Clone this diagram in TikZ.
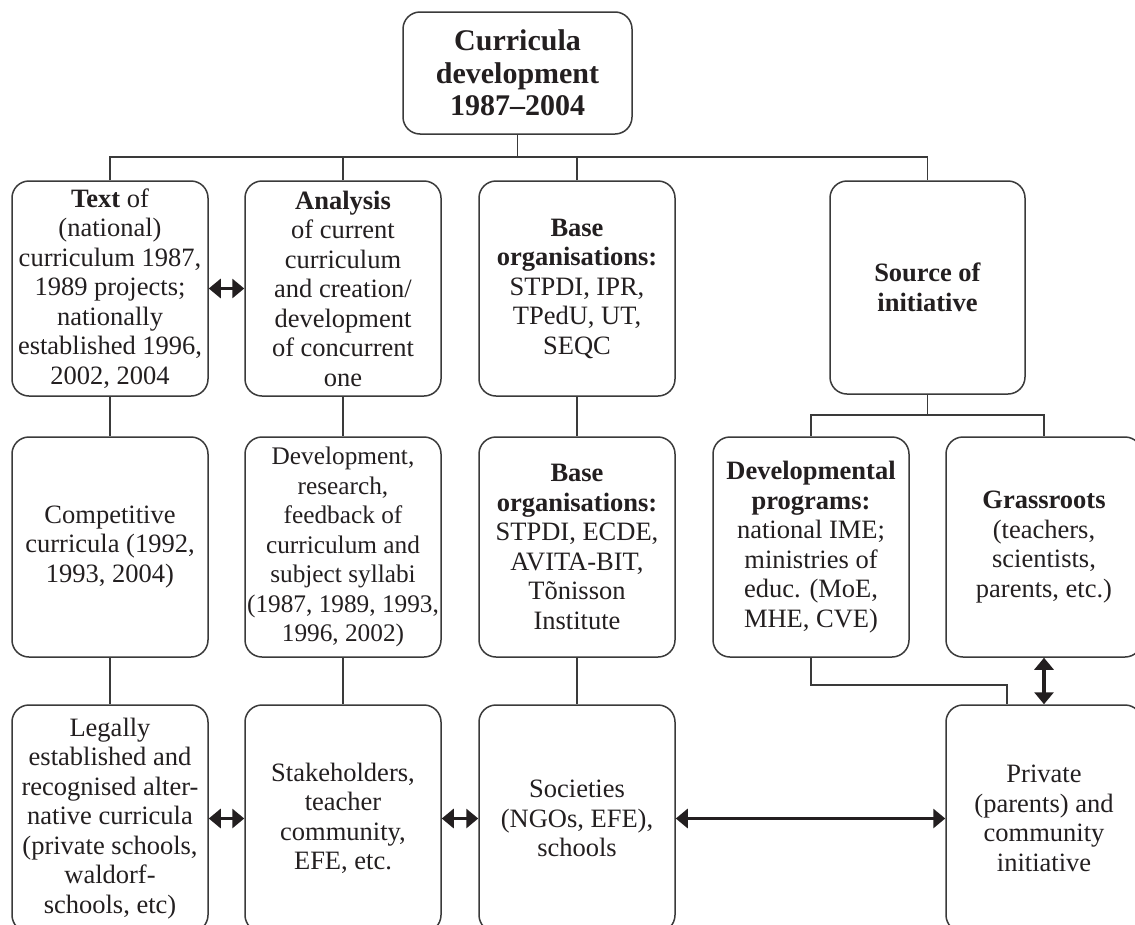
\documentclass[tikz,border=0pt]{standalone}
\usepackage{fontspec}
\setmainfont{Liberation Serif}
\usetikzlibrary{arrows.meta}
\definecolor{ink}{HTML}{231F20}
\definecolor{edge}{HTML}{3A3A3A}
\tikzset{
  box/.style={draw=edge, line width=1.5pt, rounded corners=17pt, rectangle,
    minimum width=196pt, inner sep=0pt, align=center, text=ink,
    font=\fontsize{26.5}{29.5}\selectfont},
  conn/.style={draw=edge, line width=1.5pt},
  dbl/.style={draw=ink, line width=3.4pt, {Triangle[length=12pt,width=19pt]}-{Triangle[length=12pt,width=19pt]}}
}
\begin{document}
\begin{tikzpicture}[x=1pt,y=-1pt]
\clip (0,0) rectangle (1135,924);
\fill[white] (0,0) rectangle (1135,924);
% top
\node[box, minimum width=229pt, minimum height=122pt, font=\fontsize{30}{32.5}\selectfont\bfseries] (top) at (517.5,73)
  {Curricula\\development\\1987--2004};
% row 1
\node[box, minimum height=215pt] (A) at (110,288.5)
  {\textbf{Text} of\\(national)\\curriculum 1987,\\1989 projects;\\nationally\\established 1996,\\2002, 2004};
\node[box, minimum height=215pt] (B) at (343,288.5)
  {\textbf{Analysis}\\of current\\curriculum\\and creation/\\development\\of concurrent\\one};
\node[box, minimum height=215pt] (C) at (577,288.5)
  {\textbf{Base}\\\textbf{organisations:}\\STPDI, IPR,\\TPedU, UT,\\SEQC};
\node[box, minimum width=195pt, minimum height=213pt] (D) at (927.5,287.5)
  {\textbf{Source of}\\\textbf{initiative}};
% row 2
\node[box, minimum height=220pt] (A2) at (110,547)
  {Competitive\\curricula (1992,\\1993, 2004)};
\node[box, minimum height=220pt, font=\fontsize{25.3}{29.5}\selectfont] (B2) at (343,547)
  {Development,\\research,\\feedback of\\curriculum and\\subject syllabi\\(1987, 1989, 1993,\\1996, 2002)};
\node[box, minimum height=220pt] (C2) at (577,547)
  {\textbf{Base}\\\textbf{organisations:}\\STPDI, ECDE,\\AVITA-BIT,\\Tõnisson\\Institute};
\node[box, minimum height=220pt] (Dev) at (811,547)
  {\textbf{Developmental}\\\textbf{programs:}\\national IME;\\ministries of\\educ. (MoE,\\MHE, CVE)};
\node[box, minimum height=220pt] (G) at (1044,547)
  {\textbf{Grassroots}\\(teachers,\\scientists,\\parents, etc.)};
% row 3
\node[box, minimum height=227pt] (A3) at (110,818.5)
  {Legally\\established and\\recognised alter-\\native curricula\\(private schools,\\waldorf-\\schools, etc)};
\node[box, minimum height=227pt] (B3) at (343,818.5)
  {Stakeholders,\\teacher\\community,\\EFE, etc.};
\node[box, minimum height=227pt] (C3) at (577,818.5)
  {Societies\\(NGOs, EFE),\\schools};
\node[box, minimum height=227pt] (P) at (1044,818.5)
  {Private\\(parents) and\\community\\initiative};
% connectors
\coordinate (bus) at (517.5,157);
\coordinate (bus2) at (927.5,415);
\coordinate (elbow) at (1007,685);
\draw[conn] (top.south) -- (top.south |- bus);
\draw[conn] (A.north) |- (bus) -| (D.north);
\draw[conn] (B.north) -- (B.north |- bus);
\draw[conn] (C.north) -- (C.north |- bus);
\draw[conn] (A.south) -- (A2.north);
\draw[conn] (B.south) -- (B2.north);
\draw[conn] (C.south) -- (C2.north);
\draw[conn] (A2.south) -- (A3.north);
\draw[conn] (B2.south) -- (B3.north);
\draw[conn] (C2.south) -- (C3.north);
\draw[conn] (D.south) -- (bus2);
\draw[conn] (Dev.north) |- (bus2) -| (G.north);
\draw[conn] (Dev.south) |- (elbow) -- (elbow |- P.north);
% arrows
\draw[dbl] (A.east) -- (B.west);
\draw[dbl] (A3.east) -- (B3.west);
\draw[dbl] (B3.east) -- (C3.west);
\draw[dbl] (C3.east) -- (P.west);
\draw[dbl] (G.south) -- (P.north);
\end{tikzpicture}
\end{document}
